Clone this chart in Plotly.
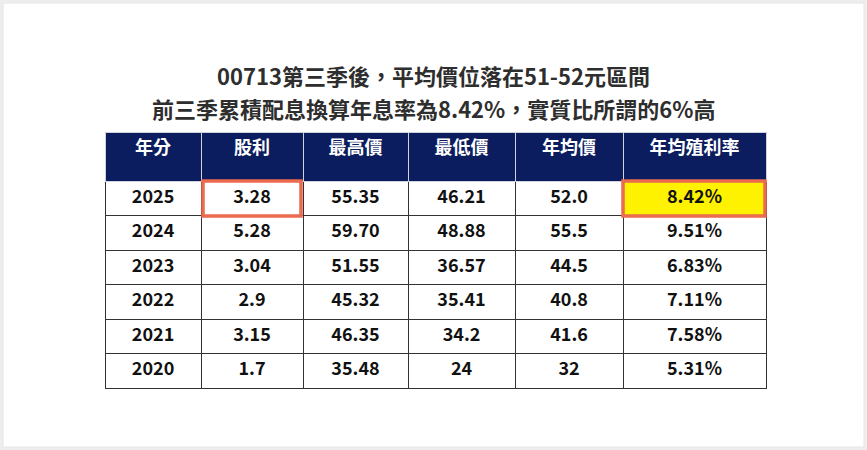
import plotly.graph_objects as go

headers = ["年分", "股利", "最高價", "最低價", "年均價", "年均殖利率"]
years = ["2025", "2024", "2023", "2022", "2021", "2020"]
dividend = ["3.28", "5.28", "3.04", "2.9", "3.15", "1.7"]
high = ["55.35", "59.70", "51.55", "45.32", "46.35", "35.48"]
low = ["46.21", "48.88", "36.57", "35.41", "34.2", "24"]
avg = ["52.0", "55.5", "44.5", "40.8", "41.6", "32"]
yield_pct = ["8.42%", "9.51%", "6.83%", "7.11%", "7.58%", "5.31%"]

W, H = 867, 450
x0, x1, ytop, ybot = 105, 766, 132, 392
cols = [years, dividend, high, low, avg, yield_pct]
fills = [["white"] * 6 for _ in cols]
fills[5][0] = "#fff200"

fig = go.Figure(go.Table(
    domain=dict(x=[x0 / W, x1 / W], y=[1 - ybot / H, 1 - ytop / H]),
    columnwidth=[96, 102, 105, 107, 108, 143],
    header=dict(values=headers, fill_color="#0b1d5e",
                line=dict(color="#cfd3dc", width=1), align="center", height=49,
                font=dict(color="white", size=18, family="Noto Sans CJK TC", weight="bold")),
    cells=dict(values=cols, fill_color=fills,
               line=dict(color="#333333", width=1), align="center", height=34.5,
               font=dict(color="#111111", size=18, family="Noto Sans CJK TC", weight="bold")),
))

def box(a, b, c, d):
    fig.add_shape(type="rect", xref="paper", yref="paper", x0=a / W, x1=b / W,
                  y0=1 - d / H, y1=1 - c / H, line=dict(color="#ec6a4e", width=3.5))

box(203, 301, 181, 216)
box(623, 765, 181, 216)

fig.add_shape(type="rect", xref="paper", yref="paper", x0=3 / W, x1=864 / W, y0=3 / H, y1=447 / H,
              fillcolor="white", line=dict(color="#e6e6e6", width=1), layer="below")
fig.add_annotation(text="<b>00713第三季後，平均價位落在51-52元區間</b>", x=0.5, y=1 - 75 / H,
                   xref="paper", yref="paper", showarrow=False, yanchor="middle",
                   font=dict(size=22, color="#2e2e2e", family="Noto Sans CJK TC"))
fig.add_annotation(text="<b>前三季累積配息換算年息率為8.42%，實質比所謂的6%高</b>", x=0.5, y=1 - 108 / H,
                   xref="paper", yref="paper", showarrow=False, yanchor="middle",
                   font=dict(size=22, color="#2e2e2e", family="Noto Sans CJK TC"))
fig.update_layout(width=W, height=H, margin=dict(l=0, r=0, t=0, b=0),
                  paper_bgcolor="#eeeeee", plot_bgcolor="white")
fig.write_html("out.html", config={"displayModeBar": False},
               post_script="document.body.style.margin='0';document.body.style.overflow='hidden';")
